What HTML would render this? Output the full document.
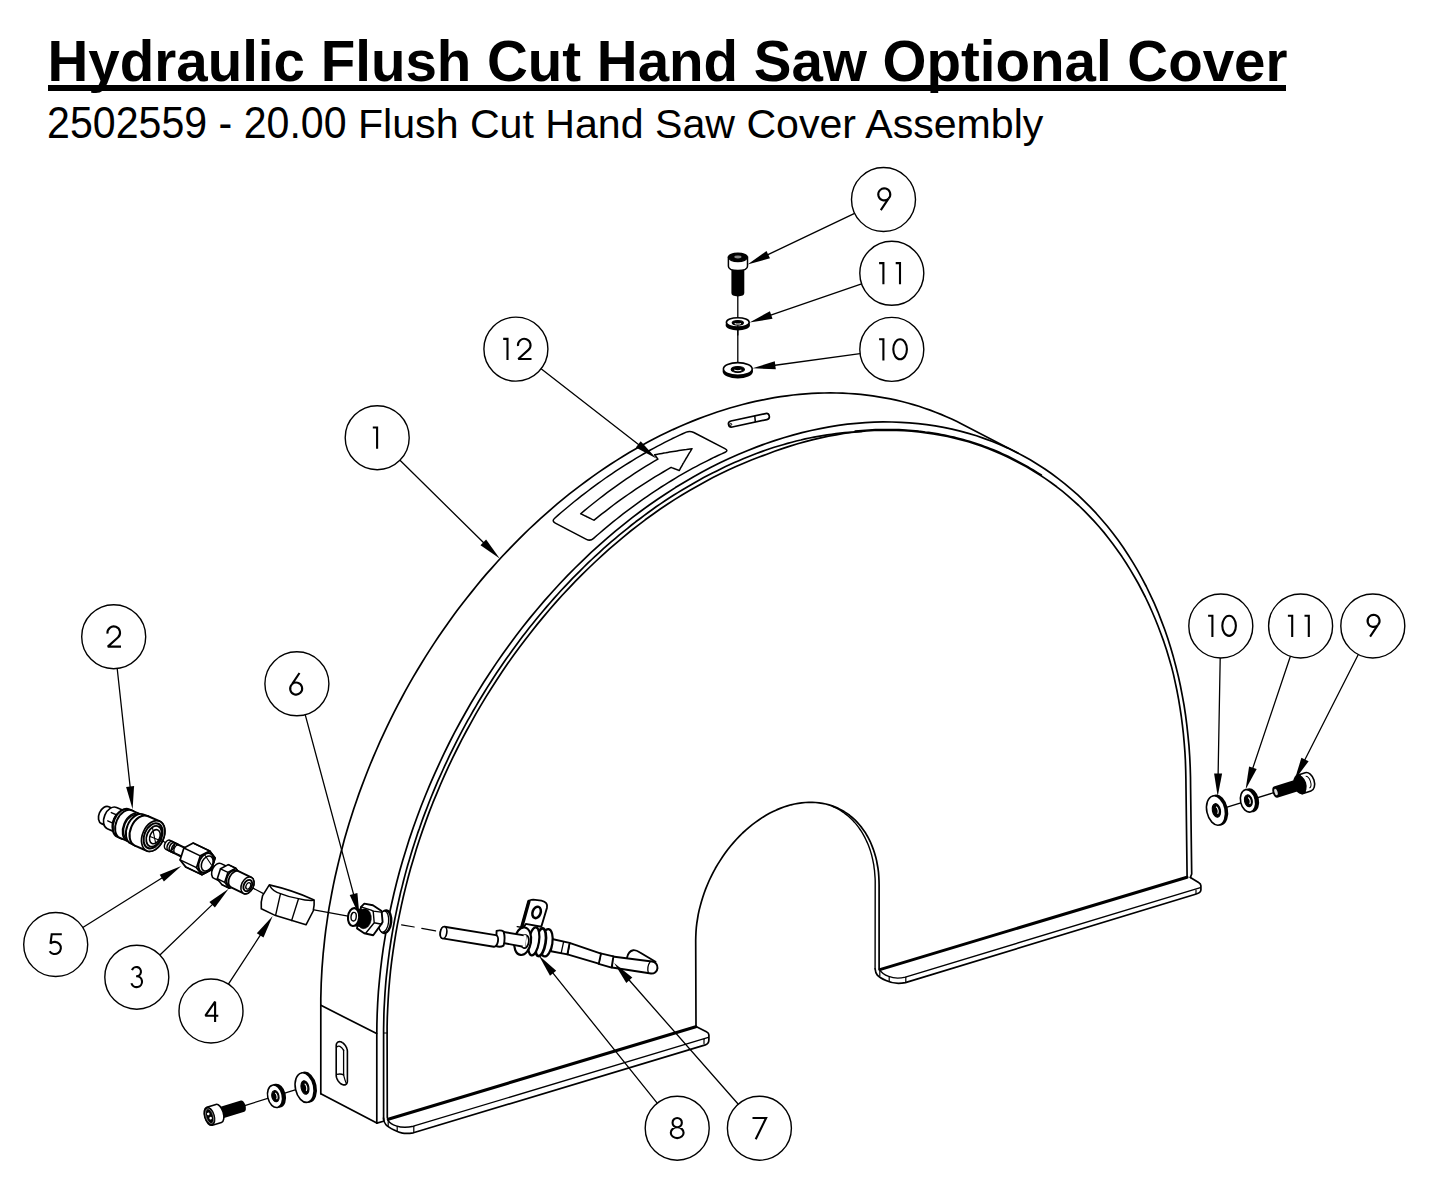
<!DOCTYPE html>
<html><head><meta charset="utf-8"><title>Hydraulic Flush Cut Hand Saw Optional Cover</title>
<style>
html,body{margin:0;padding:0;background:#fff}
body{width:1445px;height:1194px;position:relative;overflow:hidden;font-family:"Liberation Sans",sans-serif;color:#000}
#t1{position:absolute;left:47.5px;top:30.1px;font-size:56.5px;font-weight:bold;line-height:64px;white-space:nowrap}
#ul{position:absolute;left:47.6px;top:84.6px;width:1238px;height:6.2px;background:#000}
#t2{position:absolute;left:47.1px;top:101px;font-size:41.12px;line-height:47px;white-space:nowrap}
svg{position:absolute;left:0;top:0}
.dg{display:inline-block;transform:scaleY(1.06);transform-origin:0 37.9px}
</style></head><body>
<div id="t1">Hydraulic Flush Cut Hand Saw Optional Cover</div><div id="ul"></div>
<div id="t2"><span class="dg">2502559 - 20.00</span> Flush Cut Hand Saw Cover Assembly</div>
<svg width="1445" height="1194" viewBox="0 0 1445 1194">
<path d="M320.8 1093.7 L320.8 1005.7 L320.8 998.3 L321.0 990.9 L321.2 983.4 L321.6 975.9 L322.0 968.4 L322.6 960.9 L323.2 953.3 L324.0 945.8 L324.8 938.2 L325.7 930.6 L326.8 923.0 L327.9 915.3 L329.1 907.7 L330.5 900.1 L331.9 892.5 L333.4 884.8 L335.0 877.2 L336.8 869.5 L338.6 861.9 L340.5 854.3 L342.5 846.7 L344.5 839.0 L346.7 831.4 L349.0 823.8 L351.4 816.3 L353.8 808.7 L356.4 801.2 L359.0 793.6 L361.8 786.1 L364.6 778.7 L367.5 771.2 L370.5 763.8 L373.6 756.4 L376.8 749.0 L380.0 741.7 L383.4 734.4 L386.8 727.1 L390.3 719.9 L393.9 712.7 L397.5 705.6 L401.3 698.5 L405.1 691.4 L409.0 684.4 L413.0 677.4 L417.1 670.5 L421.2 663.7 L425.4 656.9 L429.7 650.1 L434.1 643.4 L438.5 636.8 L443.0 630.2 L447.6 623.7 L452.2 617.2 L456.9 610.8 L461.7 604.5 L466.6 598.3 L471.5 592.1 L476.4 586.0 L481.4 579.9 L486.5 573.9 L491.7 568.1 L496.9 562.2 L502.1 556.5 L507.5 550.8 L512.8 545.3 L518.2 539.8 L523.7 534.3 L529.2 529.0 L534.8 523.8 L540.4 518.6 L546.1 513.6 L551.8 508.6 L557.5 503.7 L563.3 498.9 L569.1 494.2 L575.0 489.6 L580.9 485.1 L586.8 480.7 L592.8 476.4 L598.8 472.1 L604.9 468.0 L610.9 464.0 L617.0 460.1 L623.2 456.3 L629.3 452.6 L635.5 449.0 L641.7 445.5 L647.9 442.1 L654.1 438.8 L660.4 435.6 L666.7 432.6 L672.9 429.6 L679.2 426.8 L685.6 424.0 L691.9 421.4 L698.2 418.9 L704.5 416.5 L710.9 414.2 L717.2 412.0 L723.6 410.0 L729.9 408.0 L736.3 406.2 L742.6 404.5 L749.0 402.9 L755.3 401.4 L761.6 400.1 L768.0 398.8 L774.3 397.7 L780.6 396.7 L786.9 395.8 L793.1 395.0 L799.4 394.4 L805.7 393.9 L811.9 393.4 L818.1 393.1 L824.3 393.0 L830.4 392.9 L836.5 393.0 L842.7 393.2 L848.7 393.5 L854.8 393.9 L860.8 394.4 L866.8 395.1 L872.7 395.9 L878.6 396.8 L884.5 397.8 L890.4 398.9 L896.2 400.2 L901.9 401.5 L907.6 403.0 L913.3 404.6 L918.9 406.3 L924.5 408.2 L930.1 410.1 L935.5 412.2 L941.0 414.4 L946.4 416.7 L951.7 419.1 L957.0 421.6 L962.2 424.2 L1018.2 453.2" fill="none" stroke="#000" stroke-width="1.7" stroke-linecap="round" stroke-linejoin="round" />
<path d="M376.8 1123.1 L376.8 1034.7 L376.9 1024.0 L377.2 1013.3 L377.7 1002.6 L378.4 991.7 L379.4 980.9 L380.5 970.0 L381.8 959.1 L383.3 948.1 L385.1 937.2 L387.0 926.2 L389.1 915.2 L391.5 904.2 L394.0 893.3 L396.7 882.3 L399.6 871.3 L402.7 860.4 L406.1 849.5 L409.5 838.6 L413.2 827.8 L417.1 817.0 L421.1 806.2 L425.4 795.5 L429.8 784.9 L434.4 774.3 L439.2 763.8 L444.1 753.3 L449.2 743.0 L454.5 732.7 L460.0 722.5 L465.6 712.5 L471.3 702.5 L477.3 692.6 L483.4 682.8 L489.6 673.2 L496.0 663.6 L502.5 654.2 L509.2 644.9 L516.0 635.8 L522.9 626.8 L530.0 617.9 L537.2 609.2 L544.5 600.6 L552.0 592.2 L559.5 584.0 L567.2 575.9 L575.0 568.0 L582.9 560.3 L590.9 552.7 L599.0 545.3 L607.2 538.1 L615.4 531.1 L623.8 524.3 L632.2 517.7 L640.7 511.2 L649.3 505.0 L658.0 499.0 L666.7 493.2 L675.4 487.6 L684.3 482.2 L693.2 477.0 L702.1 472.1 L711.0 467.3 L720.0 462.8 L729.1 458.5 L738.1 454.5 L747.2 450.7 L756.3 447.1 L765.4 443.7 L774.6 440.6 L783.7 437.7 L792.8 435.1 L802.0 432.6 L811.1 430.5 L820.2 428.6 L829.3 426.9 L838.3 425.4 L847.4 424.2 L856.4 423.3 L865.3 422.6 L874.2 422.1 L883.1 421.9 L892.0 422.0 L900.7 422.3 L909.4 422.8 L918.1 423.6 L926.7 424.6 L935.2 425.8 L943.6 427.4 L952.0 429.1 L960.2 431.1 L968.4 433.4 L976.5 435.8 L984.5 438.6 L992.4 441.5 L1000.2 444.7 L1007.9 448.1 L1015.4 451.8 L1022.9 455.7 L1030.2 459.8 L1037.4 464.2 L1044.5 468.7 L1051.4 473.5 L1058.2 478.6 L1064.9 483.8 L1071.4 489.3 L1077.8 494.9 L1084.0 500.8 L1090.1 506.9 L1096.1 513.2 L1101.8 519.7 L1107.4 526.3 L1112.9 533.2 L1118.2 540.3 L1123.3 547.5 L1128.2 555.0 L1133.0 562.6 L1137.6 570.4 L1142.0 578.4 L1146.3 586.5 L1150.3 594.8 L1154.2 603.2 L1157.9 611.8 L1161.3 620.6 L1164.7 629.5 L1167.8 638.6 L1170.7 647.8 L1173.4 657.1 L1175.9 666.5 L1178.3 676.1 L1180.4 685.8 L1182.3 695.6 L1184.1 705.5 L1185.6 715.5 L1186.9 725.6 L1188.0 735.8 L1189.0 746.1 L1189.7 756.5 L1190.2 767.0 L1190.5 777.5 L1190.6 788.1 L1191.7 874.0 L1190.4 877.4" fill="none" stroke="#000" stroke-width="1.7" stroke-linecap="round" stroke-linejoin="round" />
<line x1="320.9" y1="1005.3" x2="376.6" y2="1033.6" stroke="#000" stroke-width="1.7" stroke-linecap="round" />
<line x1="320.8" y1="1093.7" x2="376.8" y2="1123.1" stroke="#000" stroke-width="1.7" stroke-linecap="round" />
<line x1="376.8" y1="1123.1" x2="383.5" y2="1121.3" stroke="#000" stroke-width="1.7" stroke-linecap="round" />
<path d="M387.3 1117.6 L387.1 1033.2 L387.1 1026.6 L387.3 1017.4 L387.7 1008.2 L388.2 999.0 L388.8 989.8 L389.6 980.5 L390.5 971.1 L391.6 961.8 L392.9 952.4 L394.3 943.0 L395.8 933.6 L397.5 924.2 L399.4 914.8 L401.4 905.4 L403.5 896.0 L405.8 886.6 L408.2 877.2 L410.8 867.8 L413.6 858.4 L416.4 849.1 L419.4 839.7 L422.6 830.4 L425.9 821.1 L429.3 811.9 L432.9 802.7 L436.7 793.6 L440.5 784.5 L444.5 775.4 L448.6 766.4 L452.9 757.4 L457.3 748.5 L461.8 739.7 L466.4 731.0 L471.2 722.3 L476.0 713.6 L481.0 705.1 L486.1 696.6 L491.4 688.3 L496.7 680.0 L502.1 671.8 L507.7 663.6 L513.4 655.6 L519.1 647.7 L525.0 639.9 L531.0 632.2 L537.0 624.6 L543.2 617.1 L549.4 609.7 L555.8 602.4 L562.2 595.3 L568.7 588.3 L575.3 581.4 L582.0 574.6 L588.8 568.0 L595.6 561.5 L602.5 555.1 L609.4 548.9 L616.5 542.8 L623.6 536.8 L630.7 531.0 L638.0 525.4 L645.2 519.8 L652.6 514.5 L659.9 509.3 L667.4 504.3 L674.9 499.4 L682.4 494.7 L690.0 490.2 L697.6 485.9 L705.2 481.7 L712.9 477.6 L720.5 473.8 L728.3 470.1 L736.0 466.6 L743.7 463.2 L751.4 460.0 L759.2 457.0 L766.9 454.2 L774.6 451.3 L782.3 448.6 L790.0 446.1 L797.7 443.8 L805.4 441.6 L813.1 439.6 L820.8 437.8 L828.5 436.2 L836.2 434.8 L843.8 433.5 L851.4 432.4 L859.1 431.6 L866.7 431.0 L874.2 430.5 L881.7 430.3 L889.2 430.2 L896.7 430.4 L904.1 430.7 L911.4 431.2 L918.8 431.9 L926.0 432.8 L933.2 433.9 L940.4 435.1 L947.4 436.5 L954.5 438.1 L961.4 439.9 L968.3 441.8 L975.1 444.0 L981.9 446.3 L988.5 448.8 L995.1 451.4 L1001.6 454.2 L1008.1 457.2 L1014.4 460.4 L1020.7 463.7 L1026.9 467.1 L1033.0 470.7 L1039.1 474.5 L1045.0 478.4 L1050.9 482.5 L1056.7 486.8 L1062.3 491.2 L1067.9 495.8 L1073.3 500.6 L1078.7 505.5 L1084.0 510.6 L1089.1 515.8 L1094.1 521.2 L1099.1 526.7 L1103.9 532.4 L1108.5 538.2 L1113.1 544.2 L1117.6 550.4 L1121.9 556.6 L1126.1 563.0 L1130.2 569.6 L1134.1 576.2 L1138.0 583.0 L1141.7 590.0 L1145.3 597.0 L1148.7 604.2 L1152.0 611.5 L1155.2 619.0 L1158.2 626.5 L1161.1 634.2 L1163.9 641.9 L1166.5 649.8 L1168.9 657.8 L1171.3 665.9 L1173.4 674.1 L1175.2 682.4 L1177.0 690.8 L1178.6 699.3 L1180.0 707.9 L1181.3 716.5 L1182.4 725.2 L1183.4 734.0 L1184.2 742.9 L1184.9 751.8 L1185.4 760.8 L1185.7 769.9 L1185.9 779.0 L1186.0 788.1 L1187.1 876.6" fill="none" stroke="#000" stroke-width="1.7" stroke-linecap="round" stroke-linejoin="round" />
<path d="M383.6 1120.0 L383.6 1034.7 L383.6 1029.5 L383.7 1024.4 L383.8 1019.2 L383.9 1014.0 L384.1 1008.7 L384.4 1003.5 L384.7 998.3 L385.0 993.0 L385.4 987.8 L385.8 982.5 L386.3 977.2 L386.9 971.9 L387.5 966.6 L388.1 961.3 L388.8 956.0 L389.5 950.7 L390.3 945.3 L391.1 940.0 L392.0 934.7 L392.9 929.3 L393.9 924.0 L394.9 918.6 L396.0 913.3 L397.1 908.0 L398.3 902.6 L399.5 897.3 L400.7 891.9 L402.1 886.6 L403.4 881.2 L404.8 875.9 L406.2 870.6 L407.7 865.3 L409.3 859.9 L410.9 854.6 L412.5 849.3 L414.2 844.0 L415.9 838.7 L417.6 833.4 L419.5 828.2 L421.3 822.9 L423.2 817.6 L425.2 812.4 L427.2 807.2 L429.2 802.0 L431.3 796.8 L433.4 791.6 L435.6 786.4 L437.8 781.2 L440.1 776.1 L442.4 771.0 L444.7 765.9 L447.1 760.8 L449.5 755.7 L452.0 750.6 L454.5 745.6 L457.0 740.6 L459.6 735.6 L462.2 730.6 L464.9 725.7 L467.6 720.7 L470.4 715.8 L473.1 711.0 L476.0 706.1 L478.8 701.3 L481.7 696.5 L484.6 691.7 L487.6 686.9 L490.6 682.2 L493.6 677.5 L496.7 672.8 L499.8 668.2 L503.0 663.6 L506.1 659.0 L509.4 654.5 L512.6 649.9 L515.9 645.4 L519.2 641.0 L522.5 636.6 L525.9 632.2 L529.3 627.8 L532.8 623.5 L536.2 619.2 L539.7 615.0 L543.3 610.8 L546.8 606.6 L550.4 602.5 L554.0 598.4 L557.7 594.3 L561.3 590.3 L565.0 586.3 L568.8 582.3 L572.5 578.4 L576.3 574.6 L580.1 570.8 L583.9 567.0 L587.8 563.2 L591.7 559.5 L595.6 555.9 L599.5 552.3 L603.4 548.7 L607.4 545.2 L611.4 541.7 L615.4 538.3 L619.4 534.9 L623.5 531.6 L627.6 528.3 L631.6 525.0 L635.7 521.8 L639.9 518.7 L644.0 515.6 L648.2 512.5 L652.4 509.5 L656.5 506.5 L660.8 503.6 L665.0 500.8 L669.2 498.0 L673.5 495.3 L677.8 492.6 L682.1 490.0 L686.4 487.4 L690.7 484.9 L695.0 482.4 L699.4 480.0 L703.7 477.6 L708.1 475.3 L712.5 473.1 L716.8 470.9 L721.2 468.7 L725.6 466.6 L730.0 464.6 L734.4 462.6 L738.8 460.7 L743.2 458.8 L747.6 457.0 L752.0 455.2 L756.4 453.5 L760.9 451.9 L765.3 450.3 L769.7 448.8 L774.2 447.3 L778.6 446.0 L783.0 444.7 L787.5 443.4 L791.9 442.2 L796.3 441.0 L800.8 440.0 L805.2 438.9 L809.6 438.0 L814.0 437.1 L818.4 436.3 L822.8 435.6 L827.2 434.9 L831.6 434.3 L836.0 433.7 L840.4 433.2 L844.7 432.7 L849.0 432.3 L853.4 432.0 L857.7 431.6 L862.0 431.3" fill="none" stroke="#000" stroke-width="1.7" stroke-linecap="round" stroke-linejoin="round" />
<line x1="383.8" y1="1033.0" x2="387.1" y2="1033.0" stroke="#000" stroke-width="1.2" stroke-linecap="round" />
<path d="M855.1 431.1 L858.5 430.8 L861.9 430.5 L865.3 430.2 L868.7 430.0 L872.1 429.8 L875.5 429.6 L878.9 429.5 L882.2 429.4 L885.6 429.4 L888.9 429.4 L892.3 429.4 L895.6 429.5 L899.0 429.6 L902.3 429.8 L905.6 430.0 L908.9 430.2 L912.2 430.4 L915.5 430.7 L918.7 431.1 L922.0 431.4 L925.2 431.9 L928.5 432.3 L931.7 432.8 L934.9 433.3 L938.1 433.8 L941.3 434.4 L944.5 435.0 L947.7 435.7 L950.8 436.4 L953.9 437.1 L957.1 437.9 L960.2 438.7 L963.3 439.5 L966.4 440.4 L969.5 441.3 L972.5 442.2 L975.6 443.2 L978.6 444.2 L981.6 445.3 L984.6 446.4 L987.6 447.5 L990.6 448.6 L993.5 449.8 L996.5 451.0 L999.4 452.3 L1002.3 453.6 L1005.2 454.9 L1008.1 456.3 L1010.9 457.7 L1013.8 459.1 L1016.6 460.6 L1019.4 462.1 L1022.2 463.6 L1025.0 465.1 L1027.8 466.7 L1030.5 468.3 L1033.3 469.9 L1036.0 471.6 L1038.7 473.3 L1041.4 475.0" fill="none" stroke="#000" stroke-width="1.5" stroke-linecap="round" stroke-linejoin="round" />
<path d="M696.0 1026.3 L695.7 940.4 L695.8 936.2 L696.0 931.9 L696.3 927.7 L696.8 923.4 L697.5 919.0 L698.2 914.7 L699.1 910.4 L700.2 906.1 L701.4 901.7 L702.7 897.4 L704.1 893.2 L705.7 888.9 L707.4 884.7 L709.2 880.5 L711.2 876.4 L713.2 872.3 L715.4 868.3 L717.7 864.4 L720.1 860.6 L722.6 856.8 L725.2 853.1 L727.8 849.5 L730.6 846.0 L733.5 842.6 L736.5 839.3 L739.5 836.1 L742.6 833.0 L745.8 830.1 L749.0 827.3 L752.3 824.6 L755.7 822.1 L759.1 819.7 L762.5 817.4 L766.0 815.3 L769.5 813.3 L773.1 811.5 L776.6 809.9 L780.2 808.4 L783.8 807.0 L787.4 805.9 L791.0 804.8 L794.6 804.0 L798.2 803.3 L801.7 802.8 L805.3 802.5 L808.8 802.3 L812.3 802.3 L815.7 802.5 L819.1 802.8 L822.5 803.3 L825.8 804.0 L829.0 804.9 L832.2 805.9 L835.3 807.1 L838.3 808.4 L841.3 809.9 L844.2 811.6 L847.0 813.4 L849.6 815.3 L852.2 817.5 L854.7 819.7 L857.1 822.1 L859.4 824.7 L861.6 827.4 L863.6 830.2 L865.6 833.1 L867.4 836.2 L869.1 839.4 L870.7 842.7 L872.1 846.1 L873.4 849.6 L874.6 853.2 L875.7 856.9 L876.6 860.6 L877.3 864.5 L878.0 868.4 L878.5 872.4 L878.8 876.5 L879.0 880.6 L879.1 884.8 L879.1 968.8" fill="none" stroke="#000" stroke-width="1.7" stroke-linecap="round" stroke-linejoin="round" />
<path d="M832.1 806.1 L834.0 807.0 L836.0 807.9 L837.9 808.9 L839.7 810.0 L841.5 811.1 L843.3 812.3 L845.0 813.6 L846.7 814.9 L848.4 816.3 L850.0 817.8 L851.6 819.3 L853.1 820.8 L854.6 822.4 L856.1 824.1 L857.5 825.9 L858.8 827.6 L860.1 829.5 L861.4 831.4 L862.6 833.3 L863.7 835.3 L864.8 837.4 L865.8 839.5 L866.8 841.6 L867.8 843.8 L868.7 846.0 L869.5 848.3 L870.3 850.6 L871.0 852.9 L871.7 855.3 L872.3 857.8 L872.8 860.2 L873.3 862.7 L873.8 865.2 L874.1 867.8 L874.5 870.4 L874.7 873.0 L874.9 875.6 L875.1 878.2 L875.2 880.9 L875.2 883.6 L875.1 968.8" fill="none" stroke="#000" stroke-width="1.4" stroke-linecap="round" stroke-linejoin="round" />
<line x1="388.2" y1="1119.2" x2="695.8" y2="1026.7" stroke="#000" stroke-width="3.0" stroke-linecap="round" />
<line x1="879.8" y1="969.6" x2="1187.0" y2="877.2" stroke="#000" stroke-width="3.0" stroke-linecap="round" />
<path d="M383.5 1118 C384 1124 386 1126 394.1 1130 C400 1133 404 1134.2 413.4 1132.8 L705.4 1044.9 Q708.9 1043.9 708.9 1039.6 L708.9 1035 Q708.9 1033 706.4 1031.8 L696 1026.6" fill="none" stroke="#000" stroke-width="1.7" stroke-linecap="round" stroke-linejoin="round" />
<path d="M388.2 1120.3 C390 1123.5 392 1124.6 396.1 1125.8 C401 1127.6 407 1127.8 413.4 1126.2 L708.4 1037.4" fill="none" stroke="#000" stroke-width="1.4" stroke-linecap="round" stroke-linejoin="round" />
<line x1="397.2" y1="1126.6" x2="397.2" y2="1130.8" stroke="#000" stroke-width="1.2" stroke-linecap="round" />
<line x1="413.8" y1="1126.3" x2="413.8" y2="1132.5" stroke="#000" stroke-width="1.2" stroke-linecap="round" />
<line x1="704.0" y1="1039.3" x2="704.0" y2="1043.4" stroke="#000" stroke-width="1.2" stroke-linecap="round" />
<line x1="388.2" y1="1120.3" x2="388.2" y2="1125.5" stroke="#000" stroke-width="1.2" stroke-linecap="round" />
<path d="M875.1 968.8 C875.5 974 877 976.5 886 980.5 C892 983.4 897 984.4 905.4 982.6 L1195.5 894.3 Q1200.9 892.7 1200.9 890 L1200.9 885.8 Q1200.9 883.6 1198.6 882.4 L1190.4 877.4" fill="none" stroke="#000" stroke-width="1.7" stroke-linecap="round" stroke-linejoin="round" />
<path d="M879.8 969.8 C881.5 973 884 974.6 888.7 976.4 C894 978.6 899 978.8 905.4 977.1 L1200.4 887.7" fill="none" stroke="#000" stroke-width="1.4" stroke-linecap="round" stroke-linejoin="round" />
<line x1="879.8" y1="970.0" x2="879.8" y2="976.0" stroke="#000" stroke-width="1.2" stroke-linecap="round" />
<line x1="889.2" y1="977.0" x2="889.2" y2="981.2" stroke="#000" stroke-width="1.2" stroke-linecap="round" />
<line x1="905.8" y1="977.2" x2="905.8" y2="982.2" stroke="#000" stroke-width="1.2" stroke-linecap="round" />
<line x1="1196.0" y1="890.0" x2="1196.0" y2="893.6" stroke="#000" stroke-width="1.2" stroke-linecap="round" />
<path d="M336.2 1045.8 L336.2 1045.2 L336.3 1044.6 L336.4 1044.1 L336.6 1043.6 L336.9 1043.1 L337.1 1042.7 L337.5 1042.4 L337.8 1042.1 L338.2 1041.9 L338.7 1041.7 L339.2 1041.7 L339.7 1041.6 L340.2 1041.7 L340.7 1041.8 L341.3 1042.0 L341.8 1042.3 L342.3 1042.6 L342.9 1042.9 L343.4 1043.4 L343.9 1043.9 L344.4 1044.4 L344.9 1045.0 L345.4 1045.6 L345.8 1046.2 L346.1 1046.9 L346.5 1047.5 L346.7 1048.2 L347.0 1048.9 L347.2 1049.6 L347.3 1050.3 L347.4 1051.0 L347.4 1051.6 L347.4 1080.8 L347.4 1081.4 L347.3 1082.0 L347.2 1082.5 L347.0 1083.0 L346.7 1083.5 L346.5 1083.9 L346.1 1084.2 L345.8 1084.5 L345.4 1084.7 L344.9 1084.9 L344.4 1084.9 L343.9 1085.0 L343.4 1084.9 L342.9 1084.8 L342.3 1084.6 L341.8 1084.3 L341.3 1084.0 L340.7 1083.7 L340.2 1083.2 L339.7 1082.7 L339.2 1082.2 L338.7 1081.6 L338.2 1081.0 L337.8 1080.4 L337.5 1079.7 L337.1 1079.1 L336.9 1078.4 L336.6 1077.7 L336.4 1077.0 L336.3 1076.3 L336.2 1075.6 L336.2 1075.0Z" fill="none" stroke="#000" stroke-width="1.6" stroke-linecap="round" stroke-linejoin="round" />
<path d="M343.6 1050.2 L343.6 1074.9" fill="none" stroke="#000" stroke-width="1.3" stroke-linecap="round" stroke-linejoin="round" />
<path d="M336.5 1047.2 Q339.8 1044.2 343.6 1050.2" fill="none" stroke="#000" stroke-width="1.3" stroke-linecap="round" stroke-linejoin="round" />
<path d="M336.8 1074.4 Q340.8 1073.4 343.6 1074.9" fill="none" stroke="#000" stroke-width="1.3" stroke-linecap="round" stroke-linejoin="round" />
<path d="M343.6 1074.9 Q345.3 1081.9 346.6 1083.9" fill="none" stroke="#000" stroke-width="1.2" stroke-linecap="round" stroke-linejoin="round" />
<g transform="translate(748.9 420.3) rotate(-12.1)">
<rect x="-20.8" y="-3.1" width="41.6" height="6.2" rx="3.1" ry="3.1" fill="#fff" stroke="#000" stroke-width="1.7"/>
<path d="M6.0 -3.1 L6.6 3.1" fill="none" stroke="#000" stroke-width="1.5" transform="rotate(12.1 6.3 0)"/>
<circle cx="-18.6" cy="0.2" r="1.0" fill="none" stroke="#000" stroke-width="0.9"/>
</g>
<path d="M554.7 518.2 L557.9 515.4 L561.2 512.5 L564.5 509.7 L567.8 507.0 L571.1 504.2 L574.4 501.5 L577.8 498.8 L581.1 496.2 L584.5 493.6 L587.9 491.0 L591.3 488.4 L594.7 485.9 L598.1 483.4 L601.5 481.0 L604.9 478.5 L608.4 476.1 L611.8 473.8 L615.3 471.4 L618.8 469.2 L622.3 466.9 L625.8 464.7 L629.3 462.5 L632.8 460.3 L636.3 458.2 L639.8 456.1 L643.4 454.0 L646.9 452.0 L650.4 450.0 L654.0 448.1 L657.6 446.1 L661.1 444.3 L664.7 442.4 L668.3 440.6 L671.9 438.8 L675.5 437.1 L679.1 435.4 L682.7 433.7 L686.3 432.1Q689.9 430.5 693.8 432.5 L724.9 448.6Q728.8 450.6 725.2 452.2 L721.6 453.9 L718.0 455.5 L714.4 457.2 L710.8 459.0 L707.2 460.8 L703.6 462.6 L700.0 464.4 L696.5 466.3 L692.9 468.2 L689.4 470.2 L685.8 472.2 L682.3 474.2 L678.7 476.2 L675.2 478.3 L671.7 480.5 L668.2 482.6 L664.7 484.8 L661.2 487.0 L657.7 489.3 L654.2 491.6 L650.8 493.9 L647.3 496.3 L643.9 498.7 L640.4 501.1 L637.0 503.6 L633.6 506.1 L630.2 508.6 L626.8 511.1 L623.4 513.7 L620.0 516.3 L616.7 519.0 L613.3 521.7 L610.0 524.4 L606.7 527.1 L603.4 529.9 L600.1 532.7 L596.8 535.5 L593.6 538.4Q590.3 541.3 586.4 539.3 L555.3 523.2Q551.4 521.1 554.7 518.2Z" fill="none" stroke="#000" stroke-width="1.5" stroke-linecap="round" stroke-linejoin="round" />
<path d="M580.7 513.8 L581.4 514.1 L582.1 514.4 L582.7 514.7 L583.4 515.0 L584.1 515.4 L584.7 515.7 L585.4 516.0 L586.1 516.3 L586.7 516.7 L587.4 517.0 L588.1 517.3 L588.7 517.6 L589.4 518.0 L590.1 518.3 L590.7 518.6 L591.4 518.9 L592.1 519.3 L592.7 519.6 L593.4 519.9 L594.1 520.2 L594.1 520.2 L597.8 517.2 L601.5 514.2 L605.3 511.3 L609.1 508.4 L612.8 505.5 L616.6 502.7 L620.4 499.9 L624.3 497.2 L628.1 494.5 L632.0 491.8 L635.8 489.2 L639.7 486.6 L643.6 484.1 L647.5 481.6 L651.4 479.1 L655.3 476.7 L659.3 474.3 L663.2 472.0 L667.2 469.7 L671.1 467.4 L671.1 467.4 L671.5 467.6 L671.9 467.7 L672.3 467.9 L672.8 468.1 L673.2 468.2 L673.6 468.4 L674.0 468.5 L674.4 468.7 L674.8 468.8 L675.2 469.0 L675.6 469.1 L676.0 469.3 L676.4 469.4 L676.8 469.6 L677.2 469.7 L677.6 469.9 L678.0 470.0 L678.4 470.2 L678.8 470.4 L679.2 470.5 L679.2 470.5 L679.9 469.4 L680.5 468.2 L681.1 467.1 L681.8 466.0 L682.4 464.9 L683.0 463.7 L683.7 462.6 L684.3 461.5 L685.0 460.4 L685.6 459.3 L686.2 458.2 L686.9 457.2 L687.5 456.1 L688.2 455.0 L688.8 453.9 L689.4 452.9 L690.1 451.8 L690.7 450.8 L691.4 449.7 L692.0 448.7 L692.0 448.7 L690.1 448.9 L688.3 449.2 L686.4 449.5 L684.5 449.7 L682.6 450.0 L680.8 450.3 L678.9 450.6 L677.0 450.9 L675.2 451.2 L673.3 451.5 L671.4 451.8 L669.5 452.1 L667.7 452.4 L665.8 452.8 L663.9 453.1 L662.1 453.4 L660.2 453.7 L658.4 454.1 L656.5 454.4 L654.6 454.8 L654.6 454.8 L654.8 455.0 L654.9 455.2 L655.1 455.4 L655.3 455.6 L655.4 455.8 L655.6 456.0 L655.8 456.3 L655.9 456.5 L656.1 456.7 L656.2 456.9 L656.4 457.1 L656.6 457.3 L656.7 457.6 L656.9 457.8 L657.1 458.0 L657.2 458.2 L657.4 458.4 L657.5 458.6 L657.7 458.8 L657.9 459.1 L657.9 459.1 L653.9 461.4 L649.9 463.8 L646.0 466.2 L642.0 468.6 L638.1 471.1 L634.2 473.7 L630.3 476.3 L626.4 478.9 L622.5 481.6 L618.6 484.3 L614.8 487.1 L610.9 489.9 L607.1 492.7 L603.3 495.6 L599.5 498.5 L595.7 501.5 L591.9 504.5 L588.2 507.5 L584.4 510.6 L580.7 513.8Z" fill="none" stroke="#000" stroke-width="1.5" stroke-linecap="round" stroke-linejoin="round" />
<line x1="737.8" y1="294.0" x2="737.8" y2="365.0" stroke="#000" stroke-width="1.3" stroke-linecap="round" />
<g transform="translate(737.8 369.0) rotate(90.0)">
<ellipse cx="2.2" cy="0.0" rx="6.4" ry="14.4" fill="#000" stroke="#000" stroke-width="1.6"/>
<ellipse cx="0.0" cy="0.0" rx="6.4" ry="14.4" fill="#fff" stroke="#000" stroke-width="1.6"/>
<ellipse cx="0.4" cy="0.0" rx="2.9" ry="6.6" fill="#000" stroke="#000" stroke-width="1.2"/>
<path d="M0.9 -3.6 A1.6 4.0 0 0 1 0.9 3.6" fill="none" stroke="#fff" stroke-width="1.1"/>
</g>
<g transform="translate(737.8 322.4) rotate(90.0)">
<ellipse cx="2.6" cy="0.0" rx="4.7" ry="11.4" fill="#000" stroke="#000" stroke-width="1.6"/>
<ellipse cx="0.0" cy="0.0" rx="4.7" ry="11.4" fill="#fff" stroke="#000" stroke-width="1.6"/>
<ellipse cx="0.4" cy="0.0" rx="2.3" ry="5.6" fill="#000" stroke="#000" stroke-width="1.2"/>
<path d="M0.9 -3.1 A1.3 3.4 0 0 1 0.9 3.1" fill="none" stroke="#fff" stroke-width="1.1"/>
</g>
<line x1="737.8" y1="326.0" x2="737.8" y2="335.0" stroke="#000" stroke-width="1.3" stroke-linecap="round" />
<path d="M731.4 268 L731.4 293 Q731.4 296.2 737.8 296.4 Q744.3 296.2 744.3 293 L744.3 268Z" fill="#000"/>
<path d="M728.4 257.2 L728.4 266.2 Q728.4 270.4 737.9 270.6 Q747.5 270.4 747.5 266.2 L747.5 257.2 Z" fill="#fff" stroke="#000" stroke-width="1.5"/>
<ellipse cx="737.9" cy="257.3" rx="9.5" ry="4.2" fill="#000" stroke="#000" stroke-width="1.4"/>
<ellipse cx="737.9" cy="257.0" rx="3.6" ry="1.4" fill="#888" stroke="none" stroke-width="0"/>
<line x1="1225.5" y1="807.7" x2="1273.0" y2="792.9" stroke="#000" stroke-width="1.3" stroke-linecap="round" />
<g transform="translate(1216.0 810.5) rotate(-12.0)">
<ellipse cx="2.0" cy="0.0" rx="9.2" ry="14.9" fill="#000" stroke="#000" stroke-width="1.6"/>
<ellipse cx="0.0" cy="0.0" rx="9.2" ry="14.9" fill="#fff" stroke="#000" stroke-width="1.6"/>
<ellipse cx="0.4" cy="0.0" rx="4.0" ry="6.8" fill="#000" stroke="#000" stroke-width="1.2"/>
<path d="M0.9 -3.7 A2.2 4.1 0 0 1 0.9 3.7" fill="none" stroke="#fff" stroke-width="1.1"/>
</g>
<g transform="translate(1248.0 800.9) rotate(-13.0)">
<ellipse cx="2.8" cy="0.0" rx="7.4" ry="11.4" fill="#000" stroke="#000" stroke-width="1.6"/>
<ellipse cx="0.0" cy="0.0" rx="7.4" ry="11.4" fill="#fff" stroke="#000" stroke-width="1.6"/>
<ellipse cx="0.4" cy="0.0" rx="3.8" ry="6.0" fill="#000" stroke="#000" stroke-width="1.2"/>
<path d="M0.9 -3.3 A2.1 3.6 0 0 1 0.9 3.3" fill="none" stroke="#fff" stroke-width="1.1"/>
</g>
<g transform="translate(1275.6 792.1) rotate(-17.4)">
<path d="M25 -9.6 L34 -9.6 A6.2 9.6 0 0 1 34 9.6 L25 9.6 Z" fill="#fff" stroke="#000" stroke-width="1.6"/>
<path d="M33.5 -6.2 A3.6 6.4 0 0 1 33.5 6.4" fill="none" stroke="#000" stroke-width="1"/>
<ellipse cx="25.5" cy="0" rx="6.4" ry="9.9" fill="#000"/>
<path d="M25.5 -9.9 L29 -9.6 L29 9.6 L25.5 9.9Z" fill="#000"/>
<path d="M0 -5.8 L25 -5.8 L25 5.8 L0 5.8 A3 5.8 0 0 1 0 -5.8Z" fill="#000"/>
<ellipse cx="0.4" cy="0" rx="1.5" ry="3.4" fill="#ddd"/>
</g>
<line x1="244.0" y1="1105.8" x2="296.0" y2="1089.6" stroke="#000" stroke-width="1.3" stroke-linecap="round" />
<g transform="translate(304.6 1087.6) rotate(-12.0)">
<ellipse cx="2.1" cy="0.0" rx="9.2" ry="15.0" fill="#000" stroke="#000" stroke-width="1.6"/>
<ellipse cx="0.0" cy="0.0" rx="9.2" ry="15.0" fill="#fff" stroke="#000" stroke-width="1.6"/>
<ellipse cx="0.4" cy="0.0" rx="3.8" ry="6.8" fill="#000" stroke="#000" stroke-width="1.2"/>
<path d="M0.9 -3.7 A2.1 4.1 0 0 1 0.9 3.7" fill="none" stroke="#fff" stroke-width="1.1"/>
</g>
<g transform="translate(275.0 1096.3) rotate(-13.0)">
<ellipse cx="2.8" cy="0.0" rx="7.3" ry="11.4" fill="#000" stroke="#000" stroke-width="1.6"/>
<ellipse cx="0.0" cy="0.0" rx="7.3" ry="11.4" fill="#fff" stroke="#000" stroke-width="1.6"/>
<ellipse cx="0.4" cy="0.0" rx="3.5" ry="5.6" fill="#000" stroke="#000" stroke-width="1.2"/>
<path d="M0.9 -3.1 A1.9 3.4 0 0 1 0.9 3.1" fill="none" stroke="#fff" stroke-width="1.1"/>
</g>
<g transform="translate(209.6 1116.2) rotate(-17.0)">
<path d="M9 -5.9 L34.5 -5.9 A3 5.9 0 0 1 34.5 5.9 L9 5.9Z" fill="#000"/>
<path d="M0 -9.4 L9.5 -9.4 A4.6 9.4 0 0 1 9.5 9.4 L0 9.4 A4.9 9.4 0 0 1 0 -9.4Z" fill="#fff" stroke="#000" stroke-width="1.6"/>
<ellipse cx="0.0" cy="0.0" rx="4.7" ry="9.2" fill="#000" stroke="#000" stroke-width="1.2"/>
<ellipse cx="0" cy="0" rx="3.6" ry="7.6" fill="none" stroke="#999" stroke-width="0.7"/>
<circle cx="-0.6" cy="-2.6" r="1.3" fill="#fff"/><circle cx="0.4" cy="2.2" r="1.3" fill="#fff"/>
</g>
<line x1="158.0" y1="838.0" x2="170.0" y2="845.5" stroke="#000" stroke-width="1.2" stroke-linecap="round" />
<line x1="253.5" y1="888.4" x2="263.5" y2="893.6" stroke="#000" stroke-width="1.2" stroke-linecap="round" />
<line x1="314.0" y1="909.8" x2="348.0" y2="916.2" stroke="#000" stroke-width="1.2" stroke-linecap="round" />
<g transform="translate(105.1 815.2) rotate(23.4)">
<path d="M0 -9.2 L7.4 -9.2 A6.1 9.2 0 0 1 7.4 9.2 L0 9.2 A6.1 9.2 0 0 1 0 -9.2 Z" fill="#fff" stroke="#000" stroke-width="1.7" stroke-linejoin="round"/>
<ellipse cx="7.4" cy="0" rx="6.1" ry="9.2" fill="#fff" stroke="#000" stroke-width="1.4449999999999998"/>
</g>
<g transform="translate(111.9 818.1) rotate(23.4)">
<path d="M0 -11.6 L9.7 -11.6 A7.7 11.6 0 0 1 9.7 11.6 L0 11.6 A7.7 11.6 0 0 1 0 -11.6 Z" fill="#fff" stroke="#000" stroke-width="1.7" stroke-linejoin="round"/>
<ellipse cx="9.7" cy="0" rx="7.7" ry="11.6" fill="#fff" stroke="#000" stroke-width="1.4449999999999998"/>
</g>
<line x1="107.7" y1="820.9" x2="117.9" y2="825.3" stroke="#000" stroke-width="1.4" stroke-linecap="round" />
<line x1="111.3" y1="812.6" x2="121.5" y2="817.0" stroke="#000" stroke-width="1.4" stroke-linecap="round" />
<g transform="translate(120.8 822.0) rotate(23.4)">
<path d="M0 -10.6 L2.3 -10.6 A7.0 10.6 0 0 1 2.3 10.6 L0 10.6 A7.0 10.6 0 0 1 0 -10.6 Z" fill="#fff" stroke="#000" stroke-width="1.5" stroke-linejoin="round"/>
<ellipse cx="2.3" cy="0" rx="7.0" ry="10.6" fill="#fff" stroke="#000" stroke-width="1.275"/>
</g>
<g transform="translate(123.4 823.1) rotate(23.4)">
<path d="M0 -14.9 L3.2 -14.9 A9.8 14.9 0 0 1 3.2 14.9 L0 14.9 A9.8 14.9 0 0 1 0 -14.9 Z" fill="#fff" stroke="#000" stroke-width="2.2" stroke-linejoin="round"/>
<ellipse cx="3.2" cy="0" rx="9.8" ry="14.9" fill="#fff" stroke="#000" stroke-width="1.87"/>
</g>
<g transform="translate(125.9 824.2) rotate(23.4)">
<path d="M0 -14.9 L7.9 -14.9 A9.8 14.9 0 0 1 7.9 14.9 L0 14.9 A9.8 14.9 0 0 1 0 -14.9 Z" fill="#fff" stroke="#000" stroke-width="1.8" stroke-linejoin="round"/>
<ellipse cx="7.9" cy="0" rx="9.8" ry="14.9" fill="#fff" stroke="#000" stroke-width="1.53"/>
</g>
<g transform="translate(133.1 827.3) rotate(23.4)">
<path d="M0 -13.4 L4.6 -13.4 A8.8 13.4 0 0 1 4.6 13.4 L0 13.4 A8.8 13.4 0 0 1 0 -13.4 Z" fill="#fff" stroke="#000" stroke-width="1.6" stroke-linejoin="round"/>
<ellipse cx="4.6" cy="0" rx="8.8" ry="13.4" fill="#fff" stroke="#000" stroke-width="1.36"/>
</g>
<g transform="translate(137.4 829.1) rotate(23.4)">
<path d="M0 -15.9 L4.6 -15.9 A10.5 15.9 0 0 1 4.6 15.9 L0 15.9 A10.5 15.9 0 0 1 0 -15.9 Z" fill="#fff" stroke="#000" stroke-width="1.9" stroke-linejoin="round"/>
<ellipse cx="4.6" cy="0" rx="10.5" ry="15.9" fill="#fff" stroke="#000" stroke-width="1.615"/>
</g>
<g transform="translate(141.2 830.8) rotate(23.4)">
<path d="M0 -16.1 L13.0 -16.1 A10.6 16.1 0 0 1 13.0 16.1 L0 16.1 A10.6 16.1 0 0 1 0 -16.1 Z" fill="#fff" stroke="#000" stroke-width="2.0" stroke-linejoin="round"/>
<ellipse cx="13.0" cy="0" rx="10.6" ry="16.1" fill="#fff" stroke="#000" stroke-width="1.7"/>
</g>
<g transform="translate(153.1 835.9) rotate(23.4)">
<ellipse cx="0.0" cy="0.0" rx="8.7" ry="13.2" fill="#fff" stroke="#000" stroke-width="2.0"/>
</g>
<g transform="translate(154.0 836.3) rotate(23.4)">
<ellipse cx="0.0" cy="0.0" rx="7.1" ry="10.8" fill="#fff" stroke="#000" stroke-width="1.8"/>
</g>
<g transform="translate(154.9 836.7) rotate(23.4)">
<ellipse cx="0.0" cy="0.0" rx="4.9" ry="7.4" fill="#fff" stroke="#000" stroke-width="1.6"/>
</g>
<line x1="152.6" y1="828.4" x2="155.6" y2="842.9" stroke="#000" stroke-width="1.1" stroke-linecap="round" />
<line x1="150.1" y1="836.4" x2="162.6" y2="841.4" stroke="#000" stroke-width="1.1" stroke-linecap="round" />
<g transform="translate(168.0 844.8) rotate(25.8)">
<path d="M0 -5.0 L16.0 -5.0 A3.3 5.0 0 0 1 16.0 5.0 L0 5.0 A3.3 5.0 0 0 1 0 -5.0 Z" fill="#fff" stroke="#000" stroke-width="1.4" stroke-linejoin="round"/>
<ellipse cx="16.0" cy="0" rx="3.3" ry="5.0" fill="#fff" stroke="#000" stroke-width="1.19"/>
</g>
<g transform="translate(170.7 846.1) rotate(25.8)">
<ellipse cx="0.0" cy="0.0" rx="3.3" ry="5.0" fill="none" stroke="#000" stroke-width="1.6"/>
</g>
<g transform="translate(172.9 847.2) rotate(25.8)">
<ellipse cx="0.0" cy="0.0" rx="3.3" ry="5.0" fill="none" stroke="#000" stroke-width="1.6"/>
</g>
<g transform="translate(175.2 848.3) rotate(25.8)">
<ellipse cx="0.0" cy="0.0" rx="3.3" ry="5.0" fill="none" stroke="#000" stroke-width="1.6"/>
</g>
<g transform="translate(177.0 849.2) rotate(25.8)">
<path d="M0 -4.2 L6.0 -4.2 A2.8 4.2 0 0 1 6.0 4.2 L0 4.2 A2.8 4.2 0 0 1 0 -4.2 Z" fill="#fff" stroke="#000" stroke-width="1.3" stroke-linejoin="round"/>
</g>
<path d="M180.1 859.9 L183.9 848.0 L193.2 843.1 L209.7 850.9 L215.1 857.9 L211.3 869.8 L201.9 874.7 L185.6 866.9Z" fill="#fff" stroke="#000" stroke-width="1.7" stroke-linecap="round" stroke-linejoin="round" />
<line x1="185.6" y1="866.9" x2="201.9" y2="874.7" stroke="#000" stroke-width="1.4449999999999998" stroke-linecap="round" />
<line x1="193.2" y1="843.1" x2="209.7" y2="850.9" stroke="#000" stroke-width="1.4449999999999998" stroke-linecap="round" />
<line x1="183.9" y1="848.0" x2="200.3" y2="855.8" stroke="#000" stroke-width="1.4449999999999998" stroke-linecap="round" />
<line x1="180.1" y1="859.9" x2="196.5" y2="867.7" stroke="#000" stroke-width="1.4449999999999998" stroke-linecap="round" />
<path d="M201.9 874.7 L211.3 869.8 L215.1 857.9 L209.7 850.9 L200.3 855.8 L196.5 867.7Z" fill="#fff" stroke="#000" stroke-width="1.7" stroke-linecap="round" stroke-linejoin="round" />
<g transform="translate(206.1 862.9) rotate(25.8)">
<ellipse cx="0.0" cy="0.0" rx="6.9" ry="10.4" fill="#fff" stroke="#000" stroke-width="2.0"/>
</g>
<g transform="translate(207.2 863.5) rotate(25.8)">
<ellipse cx="0.0" cy="0.0" rx="5.3" ry="8.0" fill="#fff" stroke="#000" stroke-width="1.5"/>
</g>
<line x1="204.3" y1="854.3" x2="211.3" y2="864.8" stroke="#000" stroke-width="1.1" stroke-linecap="round" />
<g transform="translate(217.6 871.0) rotate(25.8)">
<path d="M0 -8.2 L8.3 -8.2 A5.4 8.2 0 0 1 8.3 8.2 L0 8.2 A5.4 8.2 0 0 1 0 -8.2 Z" fill="#fff" stroke="#000" stroke-width="1.6" stroke-linejoin="round"/>
<ellipse cx="8.3" cy="0" rx="5.4" ry="8.2" fill="#fff" stroke="#000" stroke-width="1.36"/>
</g>
<path d="M217.3 878.7 L220.5 868.8 L228.3 864.6 L235.7 868.2 L240.3 874.1 L237.1 884.1 L229.3 888.2 L221.8 884.6Z" fill="#fff" stroke="#000" stroke-width="1.6" stroke-linecap="round" stroke-linejoin="round" />
<line x1="221.8" y1="884.6" x2="229.3" y2="888.2" stroke="#000" stroke-width="1.36" stroke-linecap="round" />
<line x1="228.3" y1="864.6" x2="235.7" y2="868.2" stroke="#000" stroke-width="1.36" stroke-linecap="round" />
<line x1="220.5" y1="868.8" x2="227.9" y2="872.4" stroke="#000" stroke-width="1.36" stroke-linecap="round" />
<line x1="217.3" y1="878.7" x2="224.7" y2="882.3" stroke="#000" stroke-width="1.36" stroke-linecap="round" />
<path d="M229.3 888.2 L237.1 884.1 L240.3 874.1 L235.7 868.2 L227.9 872.4 L224.7 882.3Z" fill="#fff" stroke="#000" stroke-width="1.6" stroke-linecap="round" stroke-linejoin="round" />
<g transform="translate(232.5 878.2) rotate(25.8)">
<path d="M0 -8.4 L3.7 -8.4 A5.5 8.4 0 0 1 3.7 8.4 L0 8.4 A5.5 8.4 0 0 1 0 -8.4 Z" fill="#fff" stroke="#000" stroke-width="1.9" stroke-linejoin="round"/>
<ellipse cx="3.7" cy="0" rx="5.5" ry="8.4" fill="#fff" stroke="#000" stroke-width="1.615"/>
</g>
<g transform="translate(235.0 879.4) rotate(25.8)">
<path d="M0 -8.9 L13.8 -8.9 A5.9 8.9 0 0 1 13.8 8.9 L0 8.9 A5.9 8.9 0 0 1 0 -8.9 Z" fill="#fff" stroke="#000" stroke-width="1.8" stroke-linejoin="round"/>
<ellipse cx="13.8" cy="0" rx="5.9" ry="8.9" fill="#fff" stroke="#000" stroke-width="1.53"/>
</g>
<g transform="translate(247.8 885.6) rotate(25.8)">
<ellipse cx="0.0" cy="0.0" rx="4.0" ry="6.0" fill="#fff" stroke="#000" stroke-width="1.9"/>
</g>
<g transform="translate(248.3 885.9) rotate(25.8)">
<ellipse cx="0.0" cy="0.0" rx="2.2" ry="3.4" fill="#fff" stroke="#000" stroke-width="1.3"/>
</g>
<path d="M269.3 884.9 L262.6 895.6 Q260.6 902 261.3 908.8 L275.6 915.6 L306.0 924.8 L313.2 911.0 Q314.6 905 314.1 899.9 Q292 890 269.3 884.9Z" fill="#fff" stroke="#000" stroke-width="1.6" stroke-linecap="round" stroke-linejoin="round" />
<path d="M269.8 885.8 Q273 891.5 280.5 893.6 Q290 897.5 298.5 898.6 Q306 900.8 313.8 900.4" fill="none" stroke="#000" stroke-width="1.4" stroke-linecap="round" stroke-linejoin="round" />
<line x1="280.5" y1="893.6" x2="275.6" y2="915.4" stroke="#000" stroke-width="1.4" stroke-linecap="round" />
<line x1="298.5" y1="898.8" x2="291.6" y2="920.6" stroke="#000" stroke-width="1.4" stroke-linecap="round" />
<g transform="translate(385.4 921.8) rotate(6.0)">
<ellipse cx="0.0" cy="0.0" rx="5.7" ry="11.3" fill="#fff" stroke="#000" stroke-width="2.5"/>
</g>
<g transform="translate(383.6 921.6) rotate(6.0)">
<ellipse cx="0.0" cy="0.0" rx="5.0" ry="10.6" fill="#fff" stroke="#000" stroke-width="1.3"/>
</g>
<path d="M361.1 906.8 L364.3 903.6 L372.9 905.2 L381.6 911.0 L382.6 922 L380.4 925.4 L373.2 935.2 L364.2 933.2 L357 928.4 Z" fill="#fff" stroke="#000" stroke-width="1.9" stroke-linecap="round" stroke-linejoin="round" />
<path d="M361.1 906.8 L371.2 910.1 L373.2 911.1 L381.2 912.1" fill="none" stroke="#000" stroke-width="1.4" stroke-linecap="round" stroke-linejoin="round" />
<path d="M373.2 911.1 L374.2 922.7 L381.7 924.2 M374.2 922.7 L366.1 932.7" fill="none" stroke="#000" stroke-width="1.4" stroke-linecap="round" stroke-linejoin="round" />
<g transform="translate(364.1 918.8) rotate(6.0)">
<ellipse cx="0.0" cy="0.0" rx="7.2" ry="10.0" fill="#000" stroke="#000" stroke-width="0.5"/>
</g>
<g transform="translate(353.6 917.1) rotate(6.0)">
<path d="M0 -9.0 L8 -9.0 L8 9.0 L0 9.0Z" fill="#000"/>
<ellipse cx="0.0" cy="0.0" rx="5.6" ry="9.0" fill="#fff" stroke="#000" stroke-width="2.1"/>
<ellipse cx="0.0" cy="-0.4" rx="2.6" ry="4.3" fill="#fff" stroke="#000" stroke-width="1.4"/>
</g>
<line x1="401.6" y1="924.8" x2="414.2" y2="927.0" stroke="#000" stroke-width="1.2" stroke-linecap="round" />
<line x1="421.8" y1="928.4" x2="435.6" y2="930.8" stroke="#000" stroke-width="1.2" stroke-linecap="round" />
<path d="M627.0 957.6 Q628.5 951 633.2 950.2 Q636 949.8 640 952.5 L655.5 961.8" fill="#fff" stroke="#000" stroke-width="1.9" stroke-linecap="round" stroke-linejoin="round" />
<path d="M612.4 956.6 L652.0 961.6 A5.9 5.9 0 0 1 651.0 973.6 L612.0 967.4Z" fill="#fff" stroke="#000" stroke-width="2.0" stroke-linecap="round" stroke-linejoin="round" />
<path d="M650.2 961.6 Q646.5 967 648.4 973.2" fill="none" stroke="#000" stroke-width="1.3" stroke-linecap="round" stroke-linejoin="round" />
<path d="M600.6 953.4 L613.4 956.4 L611.6 967.6 L598.6 963.8Z" fill="#fff" stroke="#000" stroke-width="1.9" stroke-linecap="round" stroke-linejoin="round" />
<path d="M569.5 942.9 L601.0 953.6 L598.8 963.6 L567.4 954.4Z" fill="#fff" stroke="#000" stroke-width="1.9" stroke-linecap="round" stroke-linejoin="round" />
<path d="M552.0 939.0 L569.6 942.9 L567.4 954.4 L551 951.2Z" fill="#fff" stroke="#000" stroke-width="1.9" stroke-linecap="round" stroke-linejoin="round" />
<line x1="563.6" y1="941.8" x2="561.2" y2="952.8" stroke="#000" stroke-width="1.3" stroke-linecap="round" />
<path d="M520.0 933.0 L528.6 901.6 Q529.6 899.6 533.2 899.6 L541.4 900.6 Q548.4 902.2 546.9 908.0 L541.3 926.8 L525.8 923.9Z" fill="#fff" stroke="#000" stroke-width="1.9" stroke-linecap="round" stroke-linejoin="round" />
<path d="M520.2 932.6 L528.9 901.4" fill="none" stroke="#000" stroke-width="3.4" stroke-linecap="round" stroke-linejoin="round" />
<g transform="translate(536.6 912.4) rotate(20.0)">
<ellipse cx="0.0" cy="0.0" rx="4.0" ry="5.9" fill="#fff" stroke="#000" stroke-width="2.5"/>
</g>
<line x1="517.2" y1="926.6" x2="520.8" y2="927.2" stroke="#000" stroke-width="1.4" stroke-linecap="round" />
<g transform="translate(546.4 942.8) rotate(9.0)">
<ellipse cx="0.0" cy="0.0" rx="6.0" ry="13.8" fill="#fff" stroke="#000" stroke-width="2.2"/>
</g>
<g transform="translate(540.6 942.2) rotate(9.0)">
<ellipse cx="0.0" cy="0.0" rx="5.0" ry="14.0" fill="#fff" stroke="#000" stroke-width="2.7"/>
</g>
<g transform="translate(533.8 941.4) rotate(9.0)">
<ellipse cx="0.0" cy="0.0" rx="5.2" ry="14.2" fill="#fff" stroke="#000" stroke-width="2.2"/>
</g>
<g transform="translate(522.6 941.2) rotate(9.0)">
<ellipse cx="0.0" cy="0.0" rx="8.4" ry="13.9" fill="#fff" stroke="#000" stroke-width="2.2"/>
</g>
<g transform="translate(525.0 941.6) rotate(9.0)">
<ellipse cx="0.0" cy="0.0" rx="3.8" ry="6.6" fill="#fff" stroke="#000" stroke-width="1.8"/>
</g>
<path d="M503.6 932.0 L525.6 935.6 L524.6 947.0 L503.2 943.0Z" fill="#fff" stroke="#000" stroke-width="1.9" stroke-linecap="round" stroke-linejoin="round" />
<path d="M525.0 935.2 L524.0 947.2" stroke="#fff" stroke-width="2.6" fill="none"/>
<path d="M496.6 930.8 Q501 929.6 503.6 931.6 Q505.6 938 503.6 945.6 Q500 947.6 496 946.0Z" fill="#fff" stroke="#000" stroke-width="1.9" stroke-linecap="round" stroke-linejoin="round" />
<g transform="translate(494.8 940.9) rotate(-170.8)">
<path d="M0 -5.9 L51.9 -5.9 A3.2 5.9 0 0 1 51.9 5.9 L0 5.9 A3.2 5.9 0 0 1 0 -5.9 Z" fill="#fff" stroke="#000" stroke-width="1.9" stroke-linejoin="round"/>
<ellipse cx="51.9" cy="0" rx="3.2" ry="5.9" fill="#fff" stroke="#000" stroke-width="1.615"/>
</g>
<line x1="854.6" y1="213.3" x2="766.4" y2="255.4" stroke="#000" stroke-width="1.3" stroke-linecap="round" />
<polygon points="747.5,264.5 766.5,251.0 770.0,258.2" fill="#000"/>
<circle cx="883.5" cy="199.5" r="32.0" fill="#fff" stroke="#000" stroke-width="1.4"/>
<path transform="translate(875.2 188.2)" d="M13.30 10.42A6 6 0 1 1 13.32 10.40M13.30 10.42L5.6 22.0" fill="none" stroke="#000" stroke-width="2.1" stroke-linejoin="miter" stroke-miterlimit="2.05" stroke-linecap="butt"/>
<line x1="861.6" y1="283.8" x2="769.3" y2="315.6" stroke="#000" stroke-width="1.3" stroke-linecap="round" />
<polygon points="749.5,322.5 769.9,311.2 772.5,318.8" fill="#000"/>
<circle cx="891.8" cy="273.3" r="32.0" fill="#fff" stroke="#000" stroke-width="1.4"/>
<path transform="translate(875.2 262.0)" d="M3.9 1.1H8.2V22.3" fill="none" stroke="#000" stroke-width="2.1" stroke-linejoin="miter" stroke-miterlimit="2.05" stroke-linecap="butt"/>
<path transform="translate(891.8 262.0)" d="M3.9 1.1H8.2V22.3" fill="none" stroke="#000" stroke-width="2.1" stroke-linejoin="miter" stroke-miterlimit="2.05" stroke-linecap="butt"/>
<line x1="860.1" y1="353.7" x2="773.3" y2="365.5" stroke="#000" stroke-width="1.3" stroke-linecap="round" />
<polygon points="752.5,368.3 774.8,361.2 775.8,369.2" fill="#000"/>
<circle cx="891.8" cy="349.4" r="32.0" fill="#fff" stroke="#000" stroke-width="1.4"/>
<path transform="translate(875.2 338.1)" d="M3.9 1.1H8.2V22.3" fill="none" stroke="#000" stroke-width="2.1" stroke-linejoin="miter" stroke-miterlimit="2.05" stroke-linecap="butt"/>
<path transform="translate(891.8 338.1)" d="M8.3 1.1A6.8 10.05 0 1 0 8.3 21.2A6.8 10.05 0 1 0 8.3 1.1Z" fill="none" stroke="#000" stroke-width="2.1" stroke-linejoin="miter" stroke-miterlimit="2.05" stroke-linecap="butt"/>
<line x1="541.1" y1="368.8" x2="639.8" y2="445.6" stroke="#000" stroke-width="1.3" stroke-linecap="round" />
<polygon points="656.4,458.5 635.8,447.5 640.7,441.2" fill="#000"/>
<circle cx="515.9" cy="349.1" r="32.0" fill="#fff" stroke="#000" stroke-width="1.4"/>
<path transform="translate(499.3 337.8)" d="M3.9 1.1H8.2V22.3" fill="none" stroke="#000" stroke-width="2.1" stroke-linejoin="miter" stroke-miterlimit="2.05" stroke-linecap="butt"/>
<path transform="translate(515.9 337.8)" d="M2.1 8.2A6.3 6.3 0 1 1 12.52 12.08L2.4 21.2H15.6" fill="none" stroke="#000" stroke-width="2.1" stroke-linejoin="miter" stroke-miterlimit="2.05" stroke-linecap="butt"/>
<line x1="400.0" y1="460.2" x2="484.7" y2="543.8" stroke="#000" stroke-width="1.3" stroke-linecap="round" />
<polygon points="499.7,558.5 480.5,545.2 486.1,539.5" fill="#000"/>
<circle cx="377.2" cy="437.7" r="32.0" fill="#fff" stroke="#000" stroke-width="1.4"/>
<path transform="translate(368.9 426.4)" d="M3.9 1.1H8.2V22.3" fill="none" stroke="#000" stroke-width="2.1" stroke-linejoin="miter" stroke-miterlimit="2.05" stroke-linecap="butt"/>
<line x1="117.2" y1="668.5" x2="130.3" y2="788.4" stroke="#000" stroke-width="1.3" stroke-linecap="round" />
<polygon points="132.6,809.3 126.1,786.9 134.1,786.0" fill="#000"/>
<circle cx="113.7" cy="636.7" r="32.0" fill="#fff" stroke="#000" stroke-width="1.4"/>
<path transform="translate(105.4 625.4)" d="M2.1 8.2A6.3 6.3 0 1 1 12.52 12.08L2.4 21.2H15.6" fill="none" stroke="#000" stroke-width="2.1" stroke-linejoin="miter" stroke-miterlimit="2.05" stroke-linecap="butt"/>
<line x1="305.2" y1="714.7" x2="354.0" y2="895.9" stroke="#000" stroke-width="1.3" stroke-linecap="round" />
<polygon points="359.5,916.2 349.7,895.0 357.4,893.0" fill="#000"/>
<circle cx="296.9" cy="683.8" r="32.0" fill="#fff" stroke="#000" stroke-width="1.4"/>
<path transform="translate(288.6 672.5)" d="M10.9 0.5L3.31 11.87A6 6 0 1 0 3.33 11.85" fill="none" stroke="#000" stroke-width="2.1" stroke-linejoin="miter" stroke-miterlimit="2.05" stroke-linecap="butt"/>
<line x1="82.8" y1="927.5" x2="163.5" y2="877.0" stroke="#000" stroke-width="1.3" stroke-linecap="round" />
<polygon points="181.3,865.9 163.9,881.5 159.7,874.7" fill="#000"/>
<circle cx="55.7" cy="944.5" r="32.0" fill="#fff" stroke="#000" stroke-width="1.4"/>
<path transform="translate(47.4 933.2)" d="M14.4 1.1H4.3L3.1 10.4A6.1 6.1 0 1 1 2.2 18.0" fill="none" stroke="#000" stroke-width="2.1" stroke-linejoin="miter" stroke-miterlimit="2.05" stroke-linecap="butt"/>
<line x1="159.9" y1="955.0" x2="213.6" y2="903.4" stroke="#000" stroke-width="1.3" stroke-linecap="round" />
<polygon points="228.7,888.8 214.9,907.6 209.4,901.9" fill="#000"/>
<circle cx="136.8" cy="977.2" r="32.0" fill="#fff" stroke="#000" stroke-width="1.4"/>
<path transform="translate(128.5 965.9)" d="M3.5 4.2A4.6 4.6 0 1 1 7.6 10.3M7.6 10.3H8.1A5.45 5.45 0 1 1 2.9 17.4" fill="none" stroke="#000" stroke-width="2.1" stroke-linejoin="miter" stroke-miterlimit="2.05" stroke-linecap="butt"/>
<line x1="228.4" y1="984.2" x2="261.3" y2="933.7" stroke="#000" stroke-width="1.3" stroke-linecap="round" />
<polygon points="272.7,916.1 263.5,937.6 256.8,933.2" fill="#000"/>
<circle cx="211.0" cy="1011.0" r="32.0" fill="#fff" stroke="#000" stroke-width="1.4"/>
<path transform="translate(202.7 999.7)" d="M15.6 16H2.7L12.4 2V22.3" fill="none" stroke="#000" stroke-width="2.1" stroke-linejoin="miter" stroke-miterlimit="2.05" stroke-linecap="butt"/>
<line x1="657.2" y1="1103.2" x2="551.8" y2="971.7" stroke="#000" stroke-width="1.3" stroke-linecap="round" />
<polygon points="538.7,955.3 556.2,970.8 550.0,975.8" fill="#000"/>
<circle cx="677.2" cy="1128.2" r="32.0" fill="#fff" stroke="#000" stroke-width="1.4"/>
<path transform="translate(668.9 1116.9)" d="M8.3 1.1A4.65 4.65 0 1 0 8.3 10.4A4.65 4.65 0 1 0 8.3 1.1ZM8.3 10.4A6.4 5.4 0 1 0 8.3 21.2A6.4 5.4 0 1 0 8.3 10.4Z" fill="none" stroke="#000" stroke-width="2.1" stroke-linejoin="miter" stroke-miterlimit="2.05" stroke-linecap="butt"/>
<line x1="738.3" y1="1104.2" x2="628.0" y2="978.8" stroke="#000" stroke-width="1.3" stroke-linecap="round" />
<polygon points="614.1,963.0 632.3,977.6 626.3,982.9" fill="#000"/>
<circle cx="759.4" cy="1128.2" r="32.0" fill="#fff" stroke="#000" stroke-width="1.4"/>
<path transform="translate(751.1 1116.9)" d="M1.4 1.1H15 L4.6 22.3" fill="none" stroke="#000" stroke-width="2.1" stroke-linejoin="miter" stroke-miterlimit="2.05" stroke-linecap="butt"/>
<line x1="1220.2" y1="658.0" x2="1218.1" y2="775.5" stroke="#000" stroke-width="1.3" stroke-linecap="round" />
<polygon points="1217.7,796.5 1214.1,773.4 1222.1,773.6" fill="#000"/>
<circle cx="1220.8" cy="626.0" r="32.0" fill="#fff" stroke="#000" stroke-width="1.4"/>
<path transform="translate(1204.2 614.7)" d="M3.9 1.1H8.2V22.3" fill="none" stroke="#000" stroke-width="2.1" stroke-linejoin="miter" stroke-miterlimit="2.05" stroke-linecap="butt"/>
<path transform="translate(1220.8 614.7)" d="M8.3 1.1A6.8 10.05 0 1 0 8.3 21.2A6.8 10.05 0 1 0 8.3 1.1Z" fill="none" stroke="#000" stroke-width="2.1" stroke-linejoin="miter" stroke-miterlimit="2.05" stroke-linecap="butt"/>
<line x1="1290.4" y1="656.3" x2="1252.3" y2="769.6" stroke="#000" stroke-width="1.3" stroke-linecap="round" />
<polygon points="1245.6,789.5 1249.1,766.4 1256.7,769.0" fill="#000"/>
<circle cx="1300.6" cy="626.0" r="32.0" fill="#fff" stroke="#000" stroke-width="1.4"/>
<path transform="translate(1284.0 614.7)" d="M3.9 1.1H8.2V22.3" fill="none" stroke="#000" stroke-width="2.1" stroke-linejoin="miter" stroke-miterlimit="2.05" stroke-linecap="butt"/>
<path transform="translate(1300.6 614.7)" d="M3.9 1.1H8.2V22.3" fill="none" stroke="#000" stroke-width="2.1" stroke-linejoin="miter" stroke-miterlimit="2.05" stroke-linecap="butt"/>
<line x1="1358.3" y1="654.5" x2="1304.1" y2="761.3" stroke="#000" stroke-width="1.3" stroke-linecap="round" />
<polygon points="1294.6,780.0 1301.4,757.7 1308.6,761.3" fill="#000"/>
<circle cx="1372.8" cy="626.0" r="32.0" fill="#fff" stroke="#000" stroke-width="1.4"/>
<path transform="translate(1364.5 614.7)" d="M13.30 10.42A6 6 0 1 1 13.32 10.40M13.30 10.42L5.6 22.0" fill="none" stroke="#000" stroke-width="2.1" stroke-linejoin="miter" stroke-miterlimit="2.05" stroke-linecap="butt"/>
</svg>
</body></html>
